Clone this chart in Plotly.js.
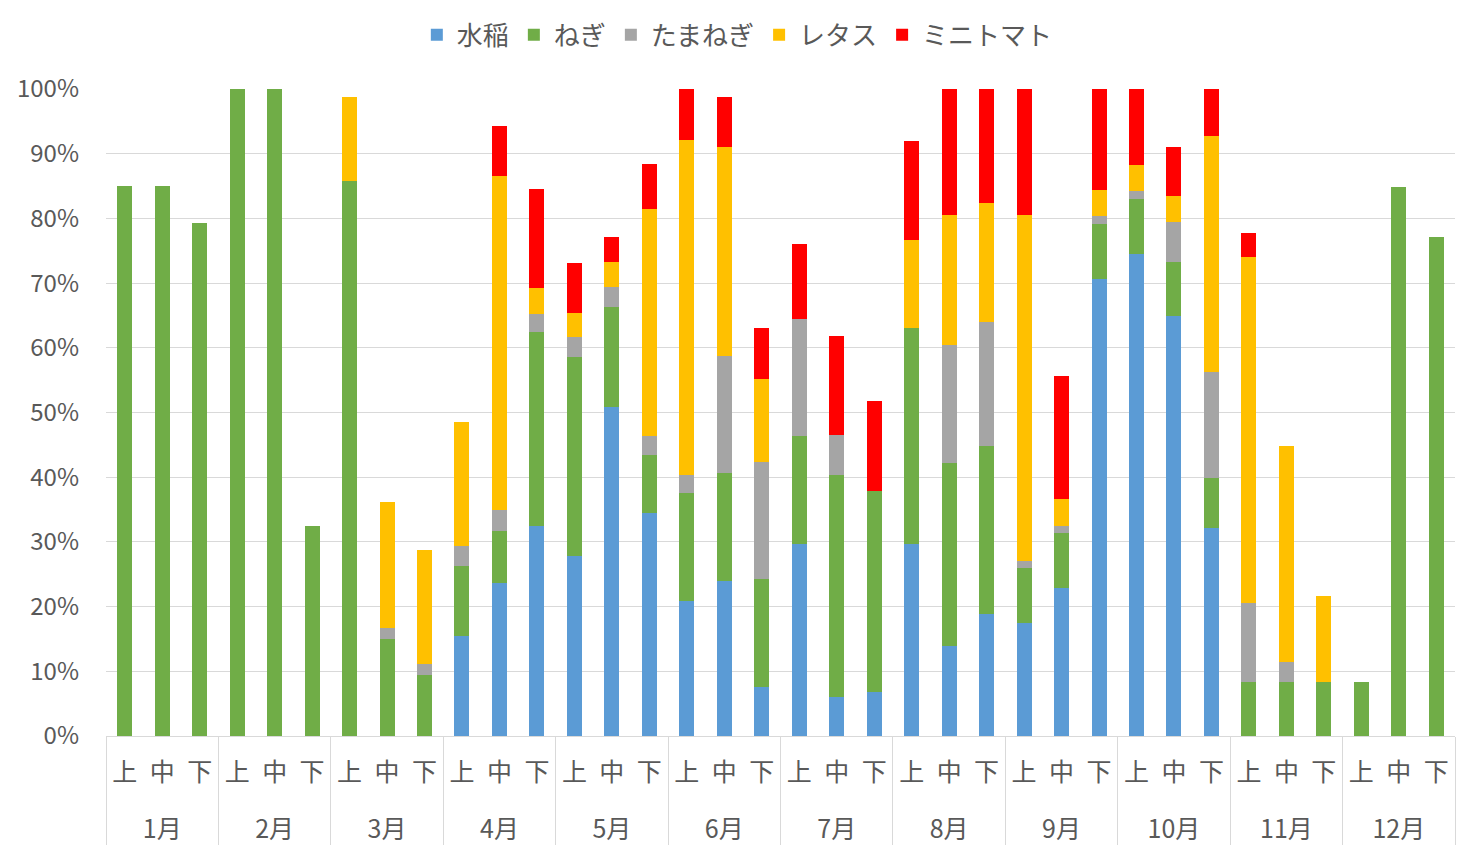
<!DOCTYPE html>
<html>
<head>
<meta charset="utf-8">
<script src="https://cdn.plot.ly/plotly-3.0.1.min.js"></script>
<style>
  html, body { margin: 0; padding: 0; background: #ffffff; }
  #chart { width: 1478px; height: 862px; }
</style>
</head>
<body>
<div id="chart"></div>
<script>
// Categories
const months = ["1月","2月","3月","4月","5月","6月","7月","8月","9月","10月","11月","12月"];
const periods = ["上","中","下"];

// Series values (%), 36 values each: month x (上,中,下)
const suito = [
  0, 0, 0,
  0, 0, 0,
  0, 0, 0,
  15.5, 23.6, 32.5,
  27.8, 50.8, 34.4,
  20.8, 24.0, 7.6,
  29.6, 6.1, 6.8,
  29.6, 13.9, 18.9,
  17.5, 22.8, 70.7,
  74.5, 64.9, 32.1,
  0, 0, 0,
  0, 0, 0
];
const negi = [
  85.0, 85.0, 79.3,
  100, 100, 32.4,
  85.8, 15.0, 9.5,
  10.7, 8.1, 29.9,
  30.8, 15.5, 9.1,
  16.7, 16.6, 16.6,
  16.7, 34.3, 31.0,
  33.5, 28.3, 25.9,
  8.4, 8.5, 8.5,
  8.5, 8.4, 7.7,
  8.4, 8.4, 8.4,
  8.4, 84.9, 77.2
];
const tamanegi = [
  0, 0, 0,
  0, 0, 0,
  0, 1.7, 1.7,
  3.2, 3.2, 2.9,
  3.0, 3.1, 2.8,
  2.9, 18.2, 18.2,
  18.2, 6.1, 0,
  0, 18.3, 19.2,
  1.2, 1.2, 1.2,
  1.3, 6.1, 16.5,
  12.1, 3.0, 0,
  0, 0, 0
];
const retasu = [
  0, 0, 0,
  0, 0, 0,
  13.0, 19.4, 17.6,
  19.2, 51.6, 4.0,
  3.8, 3.9, 35.2,
  51.7, 32.3, 12.8,
  0, 0, 0,
  13.5, 20.1, 18.4,
  53.5, 4.1, 4.0,
  4.0, 4.0, 36.5,
  53.6, 33.5, 13.3,
  0, 0, 0
];
const minitomato = [
  0, 0, 0,
  0, 0, 0,
  0, 0, 0,
  0, 7.8, 15.3,
  7.7, 3.9, 6.9,
  7.9, 7.7, 7.8,
  11.6, 15.4, 14.0,
  15.3, 19.4, 17.6,
  19.4, 19.1, 15.6,
  11.7, 7.7, 7.2,
  3.7, 0, 0,
  0, 0, 0
];

const seriesNames = ["水稲","ねぎ","たまねぎ","レタス","ミニトマト"];
const seriesValues = [suito, negi, tamanegi, retasu, minitomato];
const seriesColors = ["#5B9BD5","#70AD47","#A5A5A5","#FFC000","#FF0000"];
const yTicks = [0,10,20,30,40,50,60,70,80,90,100];
const yTickText = yTicks.map(v => v + "%");

// Build multicategory x (outer month label drops one line for spacing)
const xOuter = [], xInner = [];
months.forEach(m => periods.forEach(p => {
  xOuter.push("<br>" + m);
  xInner.push(p);
}));

const traces = seriesNames.map((name, i) => ({
  type: "bar",
  name: name,
  x: [xOuter, xInner],
  y: seriesValues[i],
  marker: { color: seriesColors[i], line: { width: 0 } }
}));

const font = "'Noto Sans CJK JP', 'Noto Sans', sans-serif";
const layout = {
  barmode: "stack",
  bargap: 0.6,
  width: 1478,
  height: 862,
  margin: { l: 106, r: 23, t: 88, b: 126 },
  paper_bgcolor: "#ffffff",
  plot_bgcolor: "#ffffff",
  font: { family: font, color: "#595959", size: 24 },
  showlegend: true,
  legend: {
    orientation: "h",
    x: 0.468, xanchor: "center",
    y: 1.082, yanchor: "middle",
    font: { family: font, size: 26, color: "#595959" },
    traceorder: "normal",
    itemwidth: 30
  },
  xaxis: {
    type: "multicategory",
    showline: true,
    linecolor: "#d9d9d9",
    linewidth: 1,
    showgrid: false,
    ticks: "",
    ticklabelstandoff: 14,
    showdividers: true,
    dividercolor: "#d9d9d9",
    dividerwidth: 1,
    tickfont: { family: font, size: 25, color: "#595959" }
  },
  yaxis: {
    range: [0, 100],
    tickmode: "array",
    tickvals: yTicks,
    ticktext: yTickText,
    showgrid: true,
    gridcolor: "#d9d9d9",
    gridwidth: 1,
    zeroline: false,
    showline: false,
    ticks: "",
    ticklabelstandoff: 26,
    tickfont: { family: font, size: 24, color: "#595959" }
  }
};

Plotly.newPlot("chart", traces, layout, { displayModeBar: false, staticPlot: true });
</script>
</body>
</html>
